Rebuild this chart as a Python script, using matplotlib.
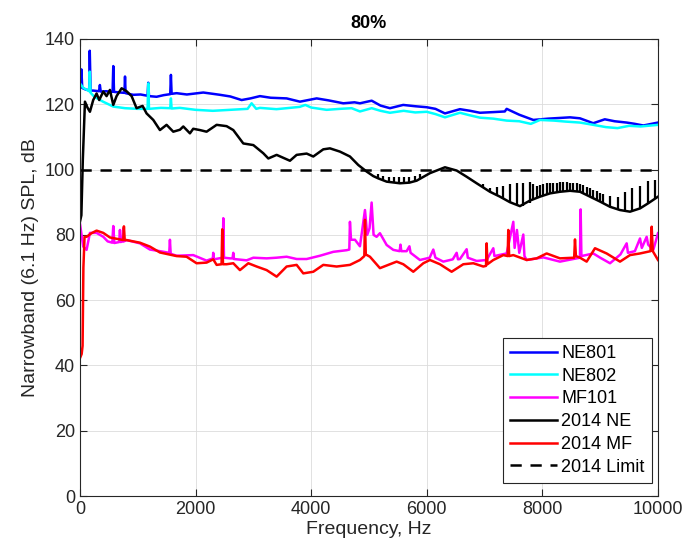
import matplotlib
matplotlib.use("Agg")
import matplotlib.pyplot as plt

plt.rcParams['font.family'] = ['Liberation Sans', 'DejaVu Sans']

# NE801 narrowband spectrum
ne801_f = [0, 25, 40, 100, 160, 170, 185, 230, 330, 345, 360, 450, 565, 577, 590, 700, 770, 780, 790,
           921, 1050, 1170, 1182, 1195, 1326, 1450, 1562, 1574, 1586, 1672, 1850, 2134, 2300, 2422,
           2600, 2797, 2950, 3114, 3300, 3576, 3806, 4095, 4300, 4556, 4750, 4844, 5047, 5200, 5363,
           5592, 5800, 5998, 6150, 6315, 6574, 6750, 6920, 7150, 7350, 7382, 7600, 7843, 8100, 8478,
           8650, 8880, 9080, 9250, 9458, 9600, 9746, 10000]
ne801_db = [125.4, 130.7, 125.0, 124.5, 124.3, 136.4, 124.2, 124.2, 124.0, 125.9, 123.9, 124.0, 123.8,
            131.7, 123.8, 123.6, 123.5, 128.5, 123.4, 122.9, 123.0, 122.6, 126.6, 122.5, 122.3, 122.8,
            123.1, 129.0, 123.2, 123.4, 123.0, 123.6, 123.2, 122.9, 122.4, 121.3, 121.8, 122.5, 122.0,
            121.8, 120.8, 121.8, 121.2, 120.3, 120.6, 120.3, 121.1, 119.6, 118.8, 119.8, 119.4, 119.1,
            118.6, 117.2, 118.5, 118.0, 117.4, 117.6, 117.8, 118.6, 116.8, 115.2, 115.6, 116.0, 115.7,
            114.2, 115.4, 114.8, 114.4, 114.0, 113.5, 114.4]

# NE802 narrowband spectrum
ne802_f = [0, 60, 160, 170, 185, 250, 400, 577, 780, 1000, 1170, 1182, 1195, 1400, 1562, 1574, 1586,
           1730, 2000, 2300, 2600, 2900, 2970, 3050, 3114, 3400, 3576, 3800, 3900, 4000, 4267, 4500,
           4700, 4844, 5047, 5200, 5363, 5600, 5800, 5998, 6150, 6315, 6574, 6750, 6920, 7150, 7382,
           7600, 7800, 7960, 8200, 8400, 8650, 8880, 9100, 9300, 9500, 9700, 10000]
ne802_db = [126.4, 125.0, 124.0, 130.0, 123.5, 122.3, 120.8, 119.3, 118.8, 118.6, 118.6, 126.4, 118.6,
            118.9, 118.8, 121.8, 118.7, 118.9, 118.3, 118.0, 118.3, 118.6, 120.3, 118.6, 118.9, 118.5,
            118.8, 119.2, 119.8, 119.0, 118.3, 118.6, 118.8, 117.8, 118.8, 118.0, 117.4, 118.0, 117.5,
            117.7, 117.0, 116.0, 117.4, 116.6, 115.9, 115.6, 115.0, 114.8, 114.0, 115.2, 115.0, 114.7,
            114.4, 113.7, 113.0, 112.7, 113.4, 113.2, 113.7]

# MF101 narrowband spectrum
mf101_f = [0, 58, 115, 173, 288, 404, 480, 560, 577, 595, 680, 692, 705, 740, 750, 760, 807, 1038,
           1211, 1384, 1545, 1557, 1570, 1672, 1960, 2191, 2300, 2306, 2315, 2470, 2480, 2492, 2595,
           2640, 2653, 2665, 2884, 3000, 3230, 3400, 3576, 3750, 3922, 4152, 4383, 4614, 4660, 4671,
           4690, 4758, 4844, 4931, 4970, 5010, 5046, 5080, 5132, 5190, 5306, 5421, 5530, 5545, 5560,
           5652, 5700, 5720, 5882, 6050, 6113, 6150, 6286, 6450, 6517, 6540, 6574, 6690, 6710, 6863,
           7036, 7151, 7170, 7300, 7382, 7497, 7520, 7560, 7600, 7670, 7690, 7728, 8016, 8304, 8535,
           8650, 8662, 8675, 8881, 9000, 9170, 9350, 9458, 9480, 9600, 9689, 9720, 9804, 9830, 9919,
           10000]
mf101_db = [83.5, 76.4, 75.4, 80.6, 80.6, 79.4, 78.0, 77.6, 82.7, 77.5, 77.8, 81.5, 77.8, 78.0, 82.0,
            78.0, 78.4, 77.4, 75.5, 75.0, 74.5, 78.5, 74.2, 73.6, 73.8, 72.1, 72.8, 74.5, 72.5, 73.0,
            85.1, 73.0, 72.8, 72.8, 74.5, 72.6, 72.2, 73.0, 72.8, 73.0, 73.3, 72.6, 72.6, 73.6, 74.8,
            75.3, 75.5, 84.0, 78.5, 78.5, 76.5, 87.6, 80.0, 82.0, 89.9, 80.0, 79.4, 80.5, 76.9, 75.4,
            75.0, 77.0, 75.0, 75.0, 76.5, 74.5, 72.3, 73.0, 75.5, 73.0, 71.8, 72.5, 74.5, 72.5, 72.6,
            75.6, 73.0, 72.0, 72.3, 75.9, 73.5, 74.0, 74.3, 84.0, 76.0, 81.5, 74.5, 80.1, 73.5, 72.3,
            73.1, 71.8, 72.6, 73.0, 87.8, 73.5, 74.3, 73.0, 71.3, 74.0, 77.4, 74.5, 75.0, 78.9, 76.0,
            79.4, 77.0, 75.4, 80.5]

# 2014 NE spectrum (lower envelope)
ne2014_f = [0, 25, 50, 87, 130, 173, 230, 288, 334, 404, 461, 519, 577, 634, 721, 807, 894, 980,
            1084, 1153, 1269, 1384, 1499, 1615, 1730, 1788, 1903, 1960, 2076, 2191, 2365, 2537, 2653,
            2826, 3000, 3172, 3259, 3403, 3633, 3749, 3922, 4037, 4210, 4325, 4498, 4671, 4815, 4959,
            5075, 5161, 5306, 5536, 5700, 5825, 6055, 6315, 6517, 6690, 6863, 7093, 7266, 7439, 7612,
            7785, 7958, 8131, 8304, 8478, 8651, 8824, 8997, 9170, 9343, 9516, 9689, 9833, 10000]
ne2014_db = [84.0, 86.0, 103.0, 120.8, 119.0, 117.7, 121.3, 123.3, 121.3, 123.9, 122.5, 124.4, 119.8,
             122.5, 124.9, 124.0, 122.5, 118.8, 119.5, 117.2, 115.2, 112.1, 113.7, 111.6, 112.2, 113.2,
             111.1, 112.5, 112.1, 111.6, 113.7, 113.3, 112.1, 108.0, 107.5, 105.0, 103.4, 104.5, 102.7,
             104.5, 104.9, 104.0, 106.2, 106.5, 105.5, 104.0, 101.4, 99.4, 98.0, 97.3, 96.3, 95.8, 96.0,
             96.6, 98.9, 100.7, 99.7, 97.8, 95.8, 93.2, 91.7, 90.0, 88.8, 90.5, 91.7, 92.7, 93.2, 93.5,
             93.2, 91.7, 90.2, 88.6, 87.6, 87.1, 88.1, 89.7, 91.7]

# 2014 NE tonal comb: frequency, base and top of each tooth
comb_f = [5160, 5250, 5340, 5430, 5520, 5610, 5700, 5790, 5880,
          6978, 7093, 7209, 7324, 7440, 7555, 7670, 7785,
          7843, 7900, 7958, 8016, 8074, 8131, 8189, 8247, 8304, 8362, 8420, 8478, 8535, 8593,
          8651, 8709, 8766, 8824, 8882, 8940, 8997,
          9055, 9170, 9313, 9429, 9545, 9689, 9833, 9948]
comb_lo = [97.3, 96.7, 96.2, 96.0, 95.8, 95.8, 96.0, 96.4, 97.0,
           94.6, 93.2, 92.0, 91.0, 90.0, 89.0, 88.8, 89.8,
           91.0, 91.3, 91.7, 92.0, 92.4, 92.7, 92.9, 93.0, 93.2, 93.3, 93.4, 93.5, 93.4, 93.3,
           93.2, 92.8, 92.2, 91.7, 91.2, 90.7, 90.2,
           89.8, 88.6, 87.6, 87.2, 87.2, 88.1, 89.7, 91.2]
comb_hi = [98.6, 98.0, 97.8, 97.8, 97.6, 97.6, 97.8, 98.0, 98.5,
           95.5, 94.5, 94.8, 95.0, 95.5, 95.8, 95.8, 96.3,
           95.5, 95.0, 95.2, 95.6, 95.8, 95.8, 96.0, 96.0, 96.2, 96.3, 96.2, 96.0, 96.0, 95.8,
           95.5, 95.2, 94.8, 94.3, 93.8, 93.3, 92.8,
           92.5, 92.0, 91.7, 93.2, 94.3, 95.1, 96.5, 96.8]

# 2014 MF spectrum
mf2014_f = [0, 30, 46, 60, 80, 115, 200, 288, 404, 519, 692, 750, 761, 775, 807, 1038, 1211, 1384,
            1672, 1845, 2018, 2191, 2306, 2365, 2450, 2462, 2475, 2537, 2653, 2768, 2913, 3057, 3230,
            3403, 3576, 3749, 3864, 4037, 4210, 4441, 4671, 4844, 4920, 4931, 4945, 5017, 5190, 5363,
            5479, 5594, 5767, 5940, 6055, 6228, 6430, 6632, 6805, 6978, 7025, 7036, 7050, 7151, 7324,
            7400, 7410, 7425, 7497, 7728, 7901, 8074, 8304, 8550, 8564, 8580, 8651, 8766, 8910, 9112,
            9343, 9516, 9689, 9870, 9891, 9910, 10000]
mf2014_db = [42.2, 43.5, 46.0, 70.0, 79.4, 79.4, 80.5, 81.3, 80.6, 79.2, 78.6, 78.4, 82.6, 78.4, 78.4,
             77.6, 76.4, 74.6, 73.5, 73.3, 71.3, 71.5, 72.5, 70.8, 71.0, 81.7, 71.0, 71.0, 71.3, 69.2,
             71.3, 70.3, 69.2, 67.2, 70.3, 70.8, 68.2, 68.7, 70.8, 70.3, 70.8, 72.3, 73.5, 84.6, 74.0,
             73.3, 69.8, 71.0, 71.8, 71.0, 68.7, 71.3, 72.3, 71.0, 68.7, 71.0, 71.3, 70.3, 70.5, 77.4,
             71.0, 72.3, 73.8, 73.5, 81.5, 73.5, 73.8, 72.3, 72.8, 74.3, 72.8, 73.0, 78.6, 73.5, 73.0,
             71.8, 75.9, 74.3, 71.8, 73.8, 74.3, 75.0, 82.5, 75.0, 72.3]

# 2014 limit
limit_f = [0, 10000]
limit_db = [100, 100]

x_ticks = [0, 2000, 4000, 6000, 8000, 10000]
y_ticks = [0, 20, 40, 60, 80, 100, 120, 140]

edge = '#262626'
lw = 1.8

fig = plt.figure(figsize=(6.89, 5.57), dpi=100)
ax = fig.add_axes([0.116, 0.1095, 0.839, 0.8205])

ax.plot(ne801_f, ne801_db, color='#0000ff', lw=lw, label='NE801')
ax.plot(ne802_f, ne802_db, color='#00ffff', lw=lw, label='NE802')
ax.plot(mf101_f, mf101_db, color='#ff00ff', lw=lw, label='MF101')
ax.plot(ne2014_f, ne2014_db, color='black', lw=lw, label='2014 NE')
ax.vlines(comb_f, comb_lo, comb_hi, color='black', lw=1.6)
ax.plot(mf2014_f, mf2014_db, color='#ff0000', lw=lw, label='2014 MF')
ax.plot(limit_f, limit_db, color='black', lw=lw, dashes=(4.5, 3.5), label='2014 Limit')

ax.set_xlim(0, 10000)
ax.set_ylim(0, 140)
ax.set_xticks(x_ticks)
ax.set_yticks(y_ticks)
ax.grid(True, color='#dcdcdc', lw=0.6)
ax.set_axisbelow(True)

ax.tick_params(direction='in', length=5, width=0.8, top=True, right=True,
               labelsize=13, colors=edge)
for sp in ax.spines.values():
    sp.set_color(edge)
    sp.set_linewidth(0.8)

ax.set_xlabel('Frequency, Hz', fontsize=14, color=edge, labelpad=2)
ax.set_ylabel('Narrowband (6.1 Hz) SPL, dB', fontsize=14, color=edge, labelpad=4)
ax.set_title('80%', fontsize=13, fontweight='bold', pad=8)

leg = ax.legend(loc='lower right', bbox_to_anchor=(0.9896, 0.0284), borderaxespad=0,
                fontsize=13, handlelength=2.6, handletextpad=0.25, labelspacing=0.32,
                borderpad=0.4, fancybox=False, framealpha=1, edgecolor=edge)
leg.get_frame().set_linewidth(0.8)

fig.savefig('out.png', dpi=100)
